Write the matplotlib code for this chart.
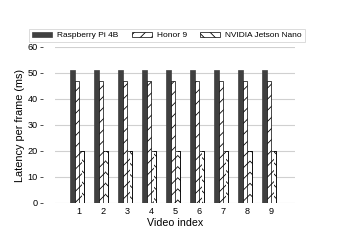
import numpy as np
from matplotlib import pyplot as plt

plt.rcParams['font.family'] = ['Liberation Sans', 'DejaVu Sans']
plt.rcParams['hatch.linewidth'] = 0.6

videos = [1, 2, 3, 4, 5, 6, 7, 8, 9]
raspberry = [51, 51, 51, 51, 51, 51, 51, 51, 51]
honor = [47, 47, 47, 47, 47, 47, 47, 47, 47]
jetson = [20, 20, 20, 20, 20, 20, 20, 20, 20]
names = ["Raspberry Pi 4B", "Honor 9", "NVIDIA Jetson Nano"]

fig = plt.figure(figsize=(3.41, 2.41), dpi=100)
ax = fig.add_axes([55 / 341, 1 - 203 / 241, 240 / 341, 156 / 241])

x = np.array(videos)
w = 0.19
ax.bar(x - 0.27, raspberry, w, color='#404040', edgecolor='#404040', linewidth=0.5, label=names[0], zorder=3)
ax.bar(x - 0.08, honor, w, color='white', edgecolor='black', hatch='///', linewidth=0.5, label=names[1], zorder=3)
# jetson bars: chevron look, left half '/', right half '\'
ax.bar(x + 0.11, jetson, w, color='white', edgecolor='black', hatch='\\\\\\', linewidth=0.5, label=names[2], zorder=3)
ax.bar(x + 0.11 - w / 4, jetson, w / 2, color='white', edgecolor='black', hatch='///', linewidth=0, zorder=4)
ax.bar(x + 0.11, jetson, w, fill=False, edgecolor='black', linewidth=0.5, zorder=5)

ax.set_xlim(0, 10)
ax.set_ylim(0, 60)
ax.set_yticks(range(0, 61, 10))
ax.set_xticks(videos)
ax.grid(axis='y', color='#d0d0d0', linewidth=0.8, zorder=0)
for s in ax.spines.values():
    s.set_visible(False)
ax.spines['left'].set_position(('outward', 9))
ax.tick_params(axis='y', length=2.5, width=0.6, color='#333333', labelsize=6.6, pad=1)
ax.tick_params(axis='x', length=0, labelsize=6.6, pad=3)
ax.set_ylabel("Latency per frame (ms)", fontsize=7.8)
ax.yaxis.set_label_coords(-0.125, 0.5)
ax.set_xlabel("Video index", fontsize=7.7, labelpad=1)

leg = fig.legend(loc='lower left', bbox_to_anchor=(29 / 341, 1 - 42 / 241, 276 / 341, 13 / 241),
                 mode='expand', ncol=3, fontsize=6, frameon=True, fancybox=False,
                 edgecolor='#cccccc', handlelength=2.4, handleheight=0.6,
                 handletextpad=0.6, borderpad=0.35, borderaxespad=0)
leg.get_frame().set_linewidth(0.6)

fig.savefig("out.png", dpi=100)
